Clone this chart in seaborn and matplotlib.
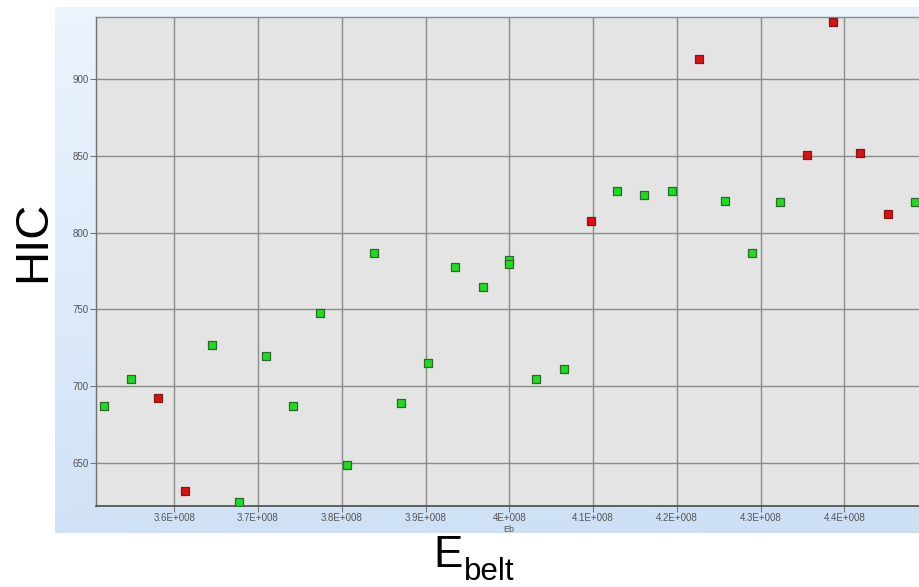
import numpy as np
import pandas as pd
import matplotlib
matplotlib.use("Agg")
import matplotlib.pyplot as plt
import seaborn as sns

# Design points: belt energy (Eb) vs head injury criterion (HIC)
eb = [3.516e8, 3.548e8, 3.581e8, 3.613e8, 3.645e8, 3.677e8, 3.710e8, 3.742e8,
      3.774e8, 3.806e8, 3.839e8, 3.871e8, 3.903e8, 3.935e8, 3.968e8, 4.000e8,
      4.000e8, 4.032e8, 4.065e8, 4.097e8, 4.129e8, 4.161e8, 4.194e8, 4.226e8,
      4.258e8, 4.290e8, 4.323e8, 4.355e8, 4.387e8, 4.419e8, 4.452e8, 4.484e8]
hic = [687.2, 704.9, 692.6, 632.2, 726.7, 624.9, 720.0, 687.0,
       747.7, 649.1, 787.0, 689.0, 715.2, 777.3, 764.5, 782.2,
       779.6, 704.9, 711.4, 807.8, 826.8, 824.2, 826.8, 912.8,
       820.7, 787.0, 819.8, 850.5, 936.8, 851.5, 811.9, 819.8]
status = ["feasible", "feasible", "infeasible", "infeasible", "feasible", "feasible",
          "feasible", "feasible", "feasible", "feasible", "feasible", "feasible",
          "feasible", "feasible", "feasible", "feasible", "feasible", "feasible",
          "feasible", "infeasible", "feasible", "feasible", "feasible", "infeasible",
          "feasible", "feasible", "feasible", "infeasible", "infeasible", "infeasible",
          "infeasible", "feasible"]

xticks = [3.6e8, 3.7e8, 3.8e8, 3.9e8, 4.0e8, 4.1e8, 4.2e8, 4.3e8, 4.4e8]
xtick_labels = ["3.6E+008", "3.7E+008", "3.8E+008", "3.9E+008", "4E+008",
                "4.1E+008", "4.2E+008", "4.3E+008", "4.4E+008"]
yticks = [650, 700, 750, 800, 850, 900]

df = pd.DataFrame({"Eb": eb, "HIC": hic, "status": status})

sns.set_theme(style="white")
plt.rcParams["font.family"] = ["Liberation Sans", "DejaVu Sans"]

W, H = 919, 587
fig = plt.figure(figsize=(W / 100, H / 100), dpi=100)
fig.patch.set_facecolor("white")

# Light-blue gradient panel behind the plot
bg = fig.add_axes([55 / W, 1 - 533 / H, (W - 55) / W, (533 - 7) / H])
bg.set_axis_off()
gy = np.linspace(0, 1, 256)[:, None]
gx = np.linspace(0, 1, 256)[None, :]
top = np.array([0.925, 0.957, 0.995])
bot = np.array([0.800, 0.875, 0.960])
t = gy * (0.85 + 0.15 * gx)
grad = top[None, None, :] * (1 - t[..., None]) + bot[None, None, :] * t[..., None]
bg.imshow(grad, aspect="auto", extent=[0, 1, 0, 1], origin="upper")

ax = fig.add_axes([96 / W, 1 - 506.3 / H, (W - 96) / W, (506.3 - 17) / H])
ax.set_facecolor("#e4e4e4")
ax.set_axisbelow(True)
ax.grid(True, color="#8c8c8c", linewidth=1.0)

styles = {"feasible": ("#1fdc1f", "#2b6a2b"), "infeasible": ("#dc1010", "#7a1c1c")}
for key, (fc, ec) in styles.items():
    sub = df[df["status"] == key]
    sns.scatterplot(data=sub, x="Eb", y="HIC", ax=ax, marker="s", s=34,
                    color=fc, edgecolor=ec, linewidth=0.9, zorder=3, legend=False)

ax.set_xlim(3.5065e8, 4.4892e8)
ax.set_ylim(622.05, 940.1)
ax.set_xticks(xticks)
ax.set_xticklabels(xtick_labels)
ax.set_yticks(yticks)
ax.set_yticklabels([str(v) for v in yticks])
ax.tick_params(axis="both", which="major", direction="out", length=4, width=0.8,
               color="#777777", labelsize=7, labelcolor="#555555", pad=1.5,
               bottom=True, left=True)
ax.tick_params(axis="x", pad=0.5)
ax.set_xlabel("")
ax.set_ylabel("")

ax.spines["left"].set_color("#707070")
ax.spines["left"].set_linewidth(1.0)
ax.spines["bottom"].set_color("#4a4a4a")
ax.spines["bottom"].set_linewidth(1.2)
ax.spines["top"].set_color("#8c8c8c")
ax.spines["top"].set_linewidth(1.0)
ax.spines["right"].set_visible(False)

# Small axis caption under the centre tick
fig.text(509 / W, 1 - 529.5 / H, "Eb", ha="center", va="center",
         fontsize=6.5, color="#555555")

# Large axis titles
fig.text(33 / W, 1 - 241 / H, "HIC", rotation=90, ha="center", va="center",
         fontsize=34, color="black")
fig.text(433 / W, 1 - 567 / H, "E", ha="left", va="baseline",
         fontsize=31.7, color="black")
fig.text(464 / W, 1 - 580 / H, "belt", ha="left", va="baseline",
         fontsize=22.5, color="black")

fig.savefig("out.png", dpi=100)
